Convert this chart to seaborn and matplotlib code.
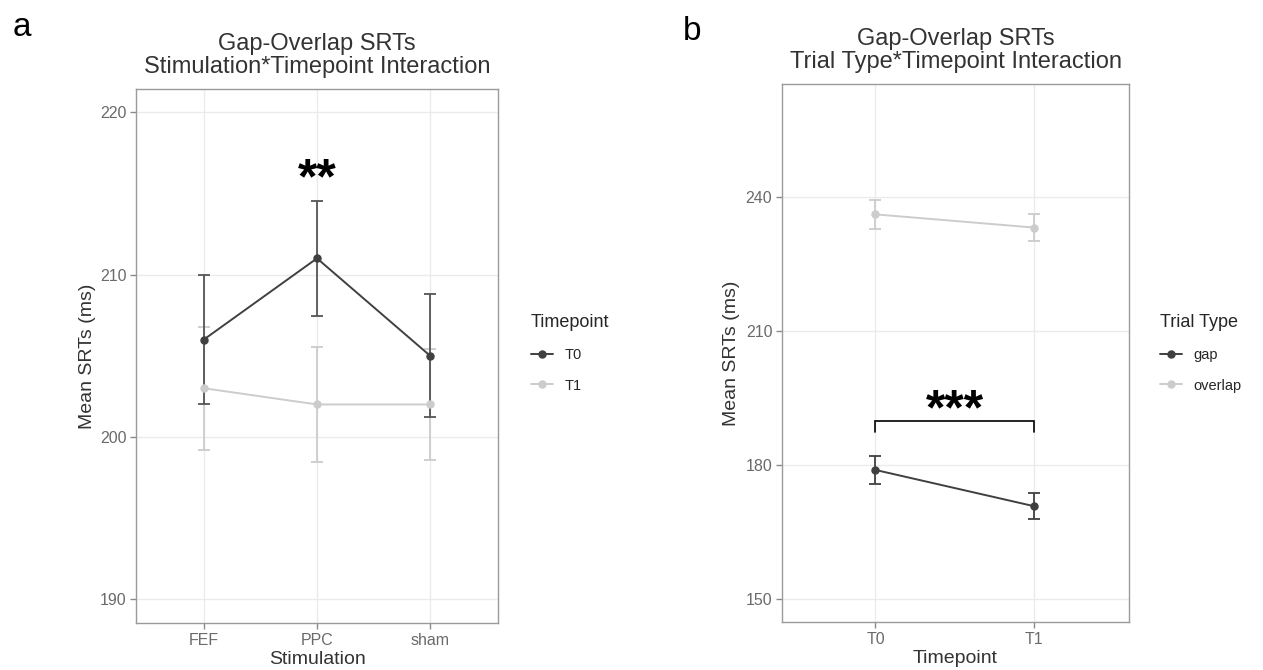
import numpy as np
import pandas as pd
import matplotlib
matplotlib.use('Agg')
import matplotlib.pyplot as plt
import seaborn as sns

# Panel a: stimulation x timepoint
stim_levels = ['FEF', 'PPC', 'sham']
t0_mean = [206.0, 211.0, 205.0]
t0_err = [4.0, 3.55, 3.8]
t1_mean = [203.0, 202.0, 202.0]
t1_err = [3.8, 3.55, 3.4]

# Panel b: trial type x timepoint
time_levels = ['T0', 'T1']
gap_mean = [178.9, 170.8]
gap_err = [3.15, 2.95]
overlap_mean = [236.05, 233.1]
overlap_err = [3.25, 3.0]

DARK = '#404040'
LIGHT = '#cccccc'

sns.set_theme(style='white')
plt.rcParams['font.family'] = ['Liberation Sans', 'DejaVu Sans']

df_a = pd.DataFrame({
    'Stimulation': stim_levels * 2,
    'SRT': t0_mean + t1_mean,
    'Timepoint': ['T0'] * 3 + ['T1'] * 3,
})
df_b = pd.DataFrame({
    'Timepoint': time_levels * 2,
    'SRT': gap_mean + overlap_mean,
    'Trial Type': ['gap'] * 2 + ['overlap'] * 2,
})

fig = plt.figure(figsize=(12.63, 6.70), dpi=100)
ax_a = fig.add_axes([136 / 1263, 47 / 670, 362 / 1263, 534 / 670])
ax_b = fig.add_axes([782 / 1263, 48 / 670, 347 / 1263, 538 / 670])


def style_axes(ax):
    ax.grid(True, color='#ebebeb', linewidth=1.0)
    ax.set_axisbelow(True)
    for sp in ax.spines.values():
        sp.set_visible(True)
        sp.set_color('#9a9a9a')
        sp.set_linewidth(1.0)
    ax.tick_params(axis='both', which='major', length=4, width=1, color='#8a8a8a',
                   labelcolor='#6a6a6a', labelsize=11.5, pad=3, bottom=True, left=True)


def draw_errors(ax, means, errs, color):
    ax.errorbar(np.arange(len(means)), means, yerr=errs, fmt='none', ecolor=color,
                elinewidth=1.3, capsize=4.5, capthick=1.3, zorder=2)


def put_legend(ax, title, x_px, y_px):
    h, l = ax.get_legend_handles_labels()
    ax.legend(h, l, title=title, loc='upper left', bbox_to_anchor=(x_px / 1263, 1 - y_px / 670),
              bbox_transform=fig.transFigure, frameon=False, fontsize=10.5, title_fontsize=13,
              handlelength=1.5, labelspacing=1.15, alignment='left', borderaxespad=0,
              borderpad=0)


# ---- panel a ----
sns.pointplot(data=df_a, x='Stimulation', y='SRT', hue='Timepoint', order=stim_levels,
              hue_order=['T0', 'T1'], palette={'T0': DARK, 'T1': LIGHT}, errorbar=None,
              markersize=5, linewidth=1.4, ax=ax_a, zorder=3)
draw_errors(ax_a, t1_mean, t1_err, LIGHT)
draw_errors(ax_a, t0_mean, t0_err, '#555555')
ax_a.set_xlim(-0.6, 2.6)
ax_a.set_ylim(188.54, 221.43)
ax_a.set_yticks([190, 200, 210, 220])
style_axes(ax_a)
ax_a.set_xlabel('Stimulation', fontsize=14, color='#333333')
ax_a.set_ylabel('Mean SRTs (ms)', fontsize=14, color='#333333')
ax_a.xaxis.set_label_coords(0.5, -0.052)
ax_a.yaxis.set_label_coords(-0.11, 0.5)
ax_a.text(0.5, 1.02, 'Gap-Overlap SRTs\nStimulation*Timepoint Interaction',
          transform=ax_a.transAxes, ha='center', va='bottom', fontsize=17,
          color='#333333', linespacing=1.1)
ax_a.text(1, 215.0, '**', ha='center', va='baseline', fontsize=36, fontweight='bold',
          color='black')
put_legend(ax_a, 'Timepoint', 531, 314)

# ---- panel b ----
sns.pointplot(data=df_b, x='Timepoint', y='SRT', hue='Trial Type', order=time_levels,
              hue_order=['gap', 'overlap'], palette={'gap': DARK, 'overlap': LIGHT},
              errorbar=None, markersize=5, linewidth=1.4, ax=ax_b, zorder=3)
draw_errors(ax_b, gap_mean, gap_err, DARK)
draw_errors(ax_b, overlap_mean, overlap_err, LIGHT)
ax_b.set_xlim(-0.59, 1.6)
ax_b.set_ylim(144.9, 265.2)
ax_b.set_yticks([150, 180, 210, 240])
style_axes(ax_b)
ax_b.set_xlabel('Timepoint', fontsize=14, color='#333333')
ax_b.set_ylabel('Mean SRTs (ms)', fontsize=14, color='#333333')
ax_b.xaxis.set_label_coords(0.5, -0.052)
ax_b.yaxis.set_label_coords(-0.121, 0.5)
ax_b.text(0.5, 1.02, 'Gap-Overlap SRTs\nTrial Type*Timepoint Interaction',
          transform=ax_b.transAxes, ha='center', va='bottom', fontsize=17,
          color='#333333', linespacing=1.1)
# significance bracket
ax_b.plot([0, 0, 1, 1], [187.3, 189.9, 189.9, 187.3], color='black', linewidth=1.2,
          solid_joinstyle='miter', zorder=4)
ax_b.text(0.5, 189.0, '***', ha='center', va='baseline', fontsize=36, fontweight='bold',
          color='black')
put_legend(ax_b, 'Trial Type', 1160, 314)

fig.text(22 / 1263, 1 - 27 / 670, 'a', ha='center', va='center', fontsize=24, color='black')
fig.text(692 / 1263, 1 - 31 / 670, 'b', ha='center', va='center', fontsize=24, color='black')

fig.savefig('out.png', dpi=100)
